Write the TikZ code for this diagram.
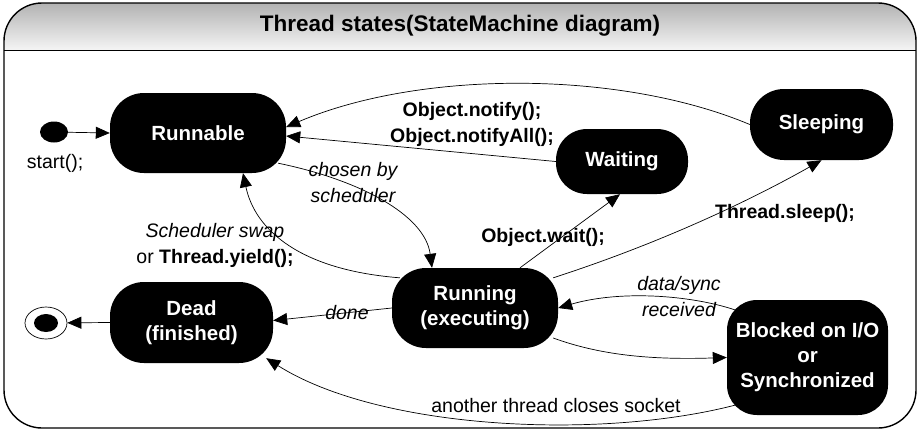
\documentclass[tikz,border=0pt]{standalone}
\usepackage{fontspec}
\setmainfont{Liberation Sans}
\usetikzlibrary{arrows.meta,shapes.geometric}

\begin{document}
\begin{tikzpicture}[x=1pt, y=-1pt,
		threadstate/.style={fill=black, text=white, rounded corners=34pt, align=center, inner sep=0pt,
			font=\fontsize{20.5}{25}\selectfont\bfseries},
		lbl/.style={align=center, font=\fontsize{19.5}{26}\selectfont},
		lblb/.style={lbl, font=\fontsize{19.5}{26}\selectfont\bfseries},
		lbli/.style={lbl, font=\fontsize{19.5}{26}\selectfont\itshape},
		trans/.style={->, line width=0.7pt},
		>={Triangle[length=14pt,width=12pt]}]
			\useasboundingbox (0,0) rectangle (920,432);
			% frame and title band
			\begin{scope}
				\clip[rounded corners=38pt] (4,3) rectangle (916,428);
				\shade[top color=gray!60, bottom color=gray!8] (0,3) rectangle (920,50);
			\end{scope}
			\draw[line width=1.4pt, rounded corners=38pt] (4,3) rectangle (916,428);
			\draw[line width=1pt] (4,50) -- (916,50);
			\node[font=\fontsize{22.5}{26}\selectfont\bfseries] (title) at (460,26) {Thread states(StateMachine diagram)};

			% states
			\node[threadstate, minimum width=176pt, minimum height=80pt] (runnable) at (198,133) {Runnable};
			\node[threadstate, minimum width=143pt, minimum height=71pt] (sleeping) at (821.5,124.5) {Sleeping};
			\node[threadstate, minimum width=132pt, minimum height=65pt, rounded corners=31pt] (waiting) at (622,161.5) {Waiting};
			\node[threadstate, minimum width=166pt, minimum height=80pt] (running) at (475,308) {Running\\(executing)};
			\node[threadstate, minimum width=163pt, minimum height=81pt] (dead) at (191.5,322.5) {Dead\\(finished)};
			\node[threadstate, minimum width=161pt, minimum height=115pt, rounded corners=30pt] (blocked) at (807.5,357.5) {Blocked on I/O\\or\\Synchronized};

			% start and end
			\node[ellipse, fill=black, minimum width=28pt, minimum height=21pt, inner sep=0pt] (start) at (54,132) {};
			\node[lbl] (startlbl) at (55,163) {start();};
			\node[ellipse, draw, line width=0.7pt, minimum width=42pt, minimum height=32pt, inner sep=0pt] (final) at (46,323) {};
			\node[ellipse, fill=black, minimum width=24pt, minimum height=18pt, inner sep=0pt] (finaldot) at (final) {};

			% transitions
			\draw[trans] (start) -- (runnable.west);
			\draw[trans] (sleeping.west) .. controls (620,70) and (420,70) .. ([yshift=6pt]runnable.east);
			\draw[trans] (waiting.west) -- ([yshift=-3pt]runnable.east);
			\draw[trans] ([xshift=-8pt,yshift=10pt]runnable.south east) .. controls (360,180) and (425,215) .. ([xshift=-43pt]running.north);
			\draw[trans] ([xshift=8pt,yshift=-10pt]running.north west) .. controls (300,270) and (255,230) .. ([xshift=45pt]runnable.south);
			\draw[trans] ([xshift=45pt]running.north) -- ([xshift=-2pt]waiting.south);
			\draw[trans] ([xshift=-5pt,yshift=-10pt]running.north east) .. controls (670,240) and (760,195) .. (sleeping.south);
			\draw[trans] (running.west) -- ([yshift=2pt]dead.east);
			\draw[trans] ([xshift=8pt,yshift=-10pt]blocked.north west) .. controls (690,295) and (620,290) .. (running.east);
			\draw[trans] ([xshift=-5pt,yshift=-30pt]running.east) .. controls (600,355) and (650,360) .. (blocked.west);
			\draw[trans] ([xshift=8pt,yshift=10pt]blocked.south west) .. controls (600,440) and (380,430) .. ([xshift=-7pt,yshift=5pt]dead.south east);
			\draw[trans] (dead.west) -- (final);

			% labels
			\node[lblb] (notifylbl) at (472,124) {Object.notify();\\Object.notifyAll();};
			\node[lbli] (chosenlbl) at (353,183) {chosen by\\scheduler};
			\node[lbl] (swaplbl) at (215,245) {\textit{Scheduler swap}\\or \textbf{Thread.yield();}};
			\node[lblb] (waitlbl) at (543,237) {Object.wait();};
			\node[lblb] (sleeplbl) at (785,213) {Thread.sleep();};
			\node[lbli] (donelbl) at (347,313) {done};
			\node[lbli] (datalbl) at (679,297) {data/sync\\received};
			\node[lbl] (socketlbl) at (556,406) {another thread closes socket};
		\end{tikzpicture}
\end{document}
